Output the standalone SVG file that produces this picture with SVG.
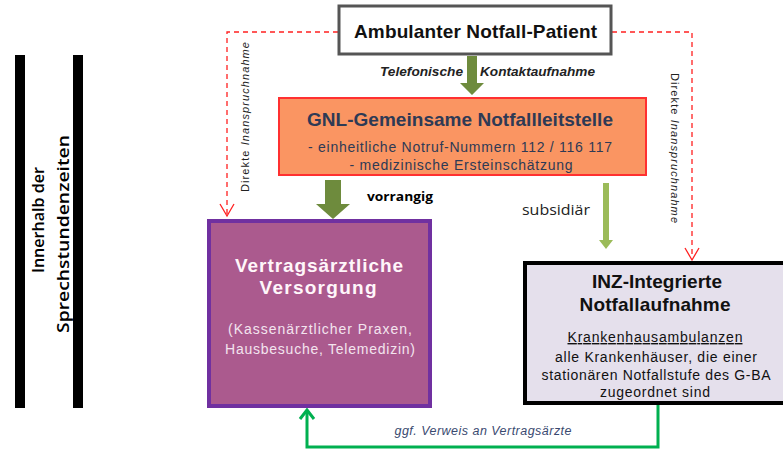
<svg xmlns="http://www.w3.org/2000/svg" width="783" height="452" viewBox="0 0 783 452">
<defs>
<style>
.sans{font-family:"Liberation Sans",Arial,sans-serif}
.cal{font-family:"Open Sans","Liberation Sans",sans-serif}
.red{fill:none;stroke:#FF2020;stroke-width:1.3;stroke-dasharray:5,4}
.redh{fill:none;stroke:#FF2020;stroke-width:1.3}
</style>
</defs>
<rect width="783" height="452" fill="#ffffff"/>
<g id="side">
<rect x="15" y="55" width="10" height="353" fill="#000"/>
<rect x="73" y="55" width="10" height="353" fill="#000"/>
<text class="cal" transform="translate(44,220) rotate(-90)" text-anchor="middle" font-size="17" font-weight="600" fill="#000" textLength="106" lengthAdjust="spacingAndGlyphs">Innerhalb der</text>
<text class="cal" transform="translate(69,234) rotate(-90)" text-anchor="middle" font-size="17" font-weight="600" fill="#000" textLength="198" lengthAdjust="spacingAndGlyphs">Sprechstundenzeiten</text>
</g>
<g id="connectors">
<path class="red" d="M338,32 H227 V214"/>
<path class="redh" d="M220,204 L227,216 L234,204"/>
<path class="red" d="M612,32 H692 V258"/>
<path class="redh" d="M685,248 L692,260 L699,248"/>
<text class="sans" transform="translate(249,117) rotate(-90)" text-anchor="middle" font-size="11" fill="#222" textLength="150" lengthAdjust="spacing">Direkte <tspan font-style="italic">Inanspruchnahme</tspan></text>
<text class="sans" transform="translate(671,148) rotate(90)" text-anchor="middle" font-size="11" fill="#222" textLength="150" lengthAdjust="spacing">Direkte <tspan font-style="italic">Inanspruchnahme</tspan></text>
<polygon points="467,56 477,56 477,83 484,83 472,95 460,83 467,83" fill="#6E8B3D"/>
<text class="sans" x="380" y="76" font-size="13" font-weight="bold" font-style="italic" fill="#222" textLength="83" lengthAdjust="spacingAndGlyphs">Telefonische</text>
<text class="sans" x="480" y="76" font-size="13" font-weight="bold" font-style="italic" fill="#222" textLength="115" lengthAdjust="spacingAndGlyphs">Kontaktaufnahme</text>
<polygon points="325,180 341,180 341,204 350,204 333,219 316,204 325,204" fill="#6E8B3D"/>
<text class="cal" x="367" y="201" font-size="13" font-weight="bold" fill="#000" textLength="66" lengthAdjust="spacingAndGlyphs">vorrangig</text>
<polygon points="603,183 609,183 609,240 613,240 606,249 599,240 603,240" fill="#9BBB59"/>
<text class="cal" x="522" y="215" font-size="14" fill="#222" textLength="68" lengthAdjust="spacingAndGlyphs">subsidiär</text>
<path d="M658,405 V447 H307 V411" fill="none" stroke="#00B050" stroke-width="3"/>
<path d="M300,419 L307,410 L314,419" fill="none" stroke="#00B050" stroke-width="3"/>
<text class="sans" x="483" y="435" text-anchor="middle" font-size="12.5" font-style="italic" fill="#3A4A70" textLength="177" lengthAdjust="spacing">ggf. Verweis an Vertragsärzte</text>
</g>
<g id="patient">
<rect x="339" y="6" width="272" height="48" fill="#fff" stroke="#555" stroke-width="3"/>
<text class="sans" x="475.5" y="38" text-anchor="middle" font-size="19" font-weight="bold" fill="#111" textLength="243" lengthAdjust="spacing">Ambulanter Notfall-Patient</text>
</g>
<g id="gnl">
<rect x="279" y="98" width="367" height="77" fill="#FA9562" stroke="#FF3030" stroke-width="2"/>
<text class="sans" x="460" y="126" text-anchor="middle" font-size="19" font-weight="bold" fill="#2E3A55" textLength="306" lengthAdjust="spacing">GNL-Gemeinsame Notfallleitstelle</text>
<text class="sans" x="460" y="152" text-anchor="middle" font-size="14" fill="#2E3A55" textLength="304" lengthAdjust="spacing">- einheitliche Notruf-Nummern 112 / 116 117</text>
<text class="sans" x="461" y="170" text-anchor="middle" font-size="14" fill="#2E3A55" textLength="223" lengthAdjust="spacing">- medizinische Ersteinschätzung</text>
</g>
<g id="vertrag">
<rect x="209" y="221" width="221" height="185" fill="#AB5A8E" stroke="#7030A0" stroke-width="4"/>
<text class="sans" x="319" y="272" text-anchor="middle" font-size="19" font-weight="bold" fill="#FFF6FA" textLength="168" lengthAdjust="spacing">Vertragsärztliche</text>
<text class="sans" x="318" y="294" text-anchor="middle" font-size="19" font-weight="bold" fill="#FFF6FA" textLength="117" lengthAdjust="spacing">Versorgung</text>
<text class="sans" x="320" y="334" text-anchor="middle" font-size="14" fill="#F3E4EE" textLength="184" lengthAdjust="spacing">(Kassenärztlicher Praxen,</text>
<text class="sans" x="320" y="354" text-anchor="middle" font-size="14" fill="#F3E4EE" textLength="190" lengthAdjust="spacing">Hausbesuche, Telemedizin)</text>
</g>
<g id="inz">
<rect x="525" y="263" width="260" height="140" fill="#E5E0EC" stroke="#000" stroke-width="4"/>
<text class="sans" x="657" y="288" text-anchor="middle" font-size="19" font-weight="bold" fill="#111" textLength="130" lengthAdjust="spacing">INZ-Integrierte</text>
<text class="sans" x="655" y="311" text-anchor="middle" font-size="19" font-weight="bold" fill="#111" textLength="151" lengthAdjust="spacing">Notfallaufnahme</text>
<text class="sans" x="655" y="342" text-anchor="middle" font-size="14" fill="#111" text-decoration="underline" textLength="175" lengthAdjust="spacing">Krankenhausambulanzen</text>
<text class="sans" x="656" y="362" text-anchor="middle" font-size="14" fill="#111" textLength="202" lengthAdjust="spacing">alle Krankenhäuser, die einer</text>
<text class="sans" x="656" y="380" text-anchor="middle" font-size="14" fill="#111" textLength="229" lengthAdjust="spacing">stationären Notfallstufe des G-BA</text>
<text class="sans" x="655" y="397" text-anchor="middle" font-size="14" fill="#111" textLength="110" lengthAdjust="spacing">zugeordnet sind</text>
</g>
</svg>
